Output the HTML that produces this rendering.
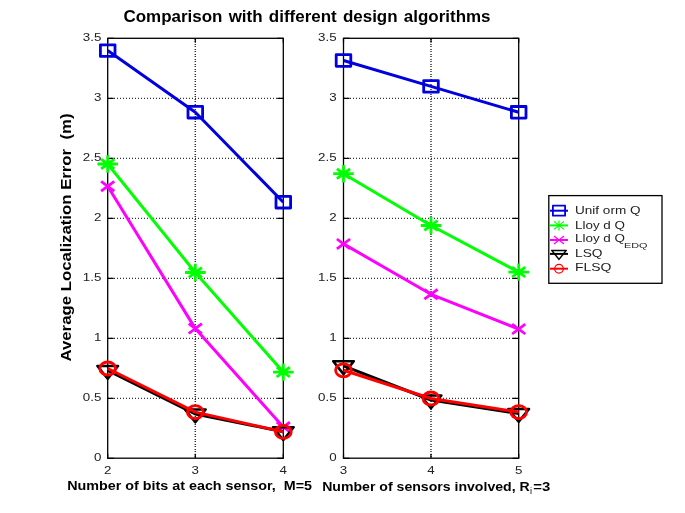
<!DOCTYPE html>
<html><head><meta charset="utf-8"><style>
html,body{margin:0;padding:0;background:#fff;}
svg{display:block;font-family:"Liberation Sans",sans-serif;will-change:transform;}
</style></head><body>
<svg width="685" height="513" viewBox="0 0 685 513">
<rect width="685" height="513" fill="#fff"/>
<g opacity="0.8"><line x1="195.3" y1="39" x2="195.3" y2="458" stroke="#000" stroke-width="1.5" stroke-dasharray="1 1 1 2"/><line x1="108" y1="398.30" x2="283.3" y2="398.30" stroke="#000" stroke-width="1.2" stroke-dasharray="1 2"/><line x1="108" y1="338.30" x2="283.3" y2="338.30" stroke="#000" stroke-width="1.2" stroke-dasharray="1 2"/><line x1="108" y1="278.30" x2="283.3" y2="278.30" stroke="#000" stroke-width="1.2" stroke-dasharray="1 2"/><line x1="108" y1="218.30" x2="283.3" y2="218.30" stroke="#000" stroke-width="1.2" stroke-dasharray="1 2"/><line x1="108" y1="158.30" x2="283.3" y2="158.30" stroke="#000" stroke-width="1.2" stroke-dasharray="1 2"/><line x1="108" y1="98.30" x2="283.3" y2="98.30" stroke="#000" stroke-width="1.2" stroke-dasharray="1 2"/></g>
<path d="M107.7,458.2v-4.5M107.7,38.3v4.5M195.3,458.2v-4.5M195.3,38.3v4.5M283.3,458.2v-4.5M283.3,38.3v4.5M107.7,458.30h6M283.3,458.30h-6M107.7,398.30h6M283.3,398.30h-6M107.7,338.30h6M283.3,338.30h-6M107.7,278.30h6M283.3,278.30h-6M107.7,218.30h6M283.3,218.30h-6M107.7,158.30h6M283.3,158.30h-6M107.7,98.30h6M283.3,98.30h-6M107.7,38.30h6M283.3,38.30h-6" stroke="#000" stroke-width="1.2" fill="none"/>
<rect x="107.7" y="38.3" width="175.60" height="419.90" fill="none" stroke="#000" stroke-width="1.3"/>
<polyline points="107.70,50.60 195.30,112.20 283.30,202.20" fill="none" stroke="#0000e0" stroke-width="3.0" stroke-linejoin="round"/>
<rect x="100.40" y="44.80" width="14.60" height="11.60" fill="none" stroke="#0000e0" stroke-width="2.8" stroke-linejoin="round"/>
<rect x="188.00" y="106.40" width="14.60" height="11.60" fill="none" stroke="#0000e0" stroke-width="2.8" stroke-linejoin="round"/>
<rect x="276.00" y="196.40" width="14.60" height="11.60" fill="none" stroke="#0000e0" stroke-width="2.8" stroke-linejoin="round"/>
<polyline points="107.70,164.00 195.30,272.50 283.30,372.10" fill="none" stroke="#00ff00" stroke-width="3.0" stroke-linejoin="round"/>
<path d="M101.10,159.10L114.30,168.90M101.10,168.90L114.30,159.10M97.40,164.00L118.00,164.00M107.70,155.30L107.70,172.70" fill="none" stroke="#00ff00" stroke-width="2.8"/>
<path d="M188.70,267.60L201.90,277.40M188.70,277.40L201.90,267.60M185.00,272.50L205.60,272.50M195.30,263.80L195.30,281.20" fill="none" stroke="#00ff00" stroke-width="2.8"/>
<path d="M276.70,367.20L289.90,377.00M276.70,377.00L289.90,367.20M273.00,372.10L293.60,372.10M283.30,363.40L283.30,380.80" fill="none" stroke="#00ff00" stroke-width="2.8"/>
<polyline points="107.70,186.20 195.30,328.60 283.30,427.00" fill="none" stroke="#ff00ff" stroke-width="3.0" stroke-linejoin="round"/>
<path d="M101.10,181.30L114.30,191.10M101.10,191.10L114.30,181.30" fill="none" stroke="#ff00ff" stroke-width="2.8"/>
<path d="M188.70,323.70L201.90,333.50M188.70,333.50L201.90,323.70" fill="none" stroke="#ff00ff" stroke-width="2.8"/>
<path d="M276.70,422.10L289.90,431.90M276.70,431.90L289.90,422.10" fill="none" stroke="#ff00ff" stroke-width="2.8"/>
<polyline points="107.70,370.50 195.30,414.00 283.30,431.70" fill="none" stroke="#000000" stroke-width="3.0" stroke-linejoin="round"/>
<path d="M97.40,366.00L118.00,366.00L107.70,378.80Z" fill="none" stroke="#000000" stroke-width="2.6" stroke-linejoin="round"/>
<path d="M185.00,409.50L205.60,409.50L195.30,422.30Z" fill="none" stroke="#000000" stroke-width="2.6" stroke-linejoin="round"/>
<path d="M273.00,427.20L293.60,427.20L283.30,440.00Z" fill="none" stroke="#000000" stroke-width="2.6" stroke-linejoin="round"/>
<polyline points="107.70,368.50 195.30,412.10 283.30,431.90" fill="none" stroke="#ff0000" stroke-width="3.0" stroke-linejoin="round"/>
<ellipse cx="107.70" cy="368.50" rx="7.9" ry="6.5" fill="none" stroke="#ff0000" stroke-width="2.8"/>
<ellipse cx="195.30" cy="412.10" rx="7.9" ry="6.5" fill="none" stroke="#ff0000" stroke-width="2.8"/>
<ellipse cx="283.30" cy="431.90" rx="7.9" ry="6.5" fill="none" stroke="#ff0000" stroke-width="2.8"/>
<g opacity="0.8"><line x1="431.0" y1="39" x2="431.0" y2="458" stroke="#000" stroke-width="1.5" stroke-dasharray="1 1 1 2"/><line x1="344" y1="398.30" x2="518.7" y2="398.30" stroke="#000" stroke-width="1.2" stroke-dasharray="1 2"/><line x1="344" y1="338.30" x2="518.7" y2="338.30" stroke="#000" stroke-width="1.2" stroke-dasharray="1 2"/><line x1="344" y1="278.30" x2="518.7" y2="278.30" stroke="#000" stroke-width="1.2" stroke-dasharray="1 2"/><line x1="344" y1="218.30" x2="518.7" y2="218.30" stroke="#000" stroke-width="1.2" stroke-dasharray="1 2"/><line x1="344" y1="158.30" x2="518.7" y2="158.30" stroke="#000" stroke-width="1.2" stroke-dasharray="1 2"/><line x1="344" y1="98.30" x2="518.7" y2="98.30" stroke="#000" stroke-width="1.2" stroke-dasharray="1 2"/></g>
<path d="M343.5,458.2v-4.5M343.5,38.3v4.5M431.0,458.2v-4.5M431.0,38.3v4.5M518.7,458.2v-4.5M518.7,38.3v4.5M343.5,458.30h6M518.7,458.30h-6M343.5,398.30h6M518.7,398.30h-6M343.5,338.30h6M518.7,338.30h-6M343.5,278.30h6M518.7,278.30h-6M343.5,218.30h6M518.7,218.30h-6M343.5,158.30h6M518.7,158.30h-6M343.5,98.30h6M518.7,98.30h-6M343.5,38.30h6M518.7,38.30h-6" stroke="#000" stroke-width="1.2" fill="none"/>
<rect x="343.5" y="38.3" width="175.20" height="419.90" fill="none" stroke="#000" stroke-width="1.3"/>
<polyline points="343.50,60.50 431.00,86.40 518.70,112.30" fill="none" stroke="#0000e0" stroke-width="3.0" stroke-linejoin="round"/>
<rect x="336.20" y="54.70" width="14.60" height="11.60" fill="none" stroke="#0000e0" stroke-width="2.8" stroke-linejoin="round"/>
<rect x="423.70" y="80.60" width="14.60" height="11.60" fill="none" stroke="#0000e0" stroke-width="2.8" stroke-linejoin="round"/>
<rect x="511.40" y="106.50" width="14.60" height="11.60" fill="none" stroke="#0000e0" stroke-width="2.8" stroke-linejoin="round"/>
<polyline points="343.50,173.70 431.00,225.50 518.70,272.10" fill="none" stroke="#00ff00" stroke-width="3.0" stroke-linejoin="round"/>
<path d="M336.90,168.80L350.10,178.60M336.90,178.60L350.10,168.80M333.20,173.70L353.80,173.70M343.50,165.00L343.50,182.40" fill="none" stroke="#00ff00" stroke-width="2.8"/>
<path d="M424.40,220.60L437.60,230.40M424.40,230.40L437.60,220.60M420.70,225.50L441.30,225.50M431.00,216.80L431.00,234.20" fill="none" stroke="#00ff00" stroke-width="2.8"/>
<path d="M512.10,267.20L525.30,277.00M512.10,277.00L525.30,267.20M508.40,272.10L529.00,272.10M518.70,263.40L518.70,280.80" fill="none" stroke="#00ff00" stroke-width="2.8"/>
<polyline points="343.50,243.90 431.00,294.30 518.70,329.10" fill="none" stroke="#ff00ff" stroke-width="3.0" stroke-linejoin="round"/>
<path d="M336.90,239.00L350.10,248.80M336.90,248.80L350.10,239.00" fill="none" stroke="#ff00ff" stroke-width="2.8"/>
<path d="M424.40,289.40L437.60,299.20M424.40,299.20L437.60,289.40" fill="none" stroke="#ff00ff" stroke-width="2.8"/>
<path d="M512.10,324.20L525.30,334.00M512.10,334.00L525.30,324.20" fill="none" stroke="#ff00ff" stroke-width="2.8"/>
<polyline points="343.50,365.80 431.00,400.00 518.70,413.50" fill="none" stroke="#000000" stroke-width="3.0" stroke-linejoin="round"/>
<path d="M333.20,361.30L353.80,361.30L343.50,374.10Z" fill="none" stroke="#000000" stroke-width="2.6" stroke-linejoin="round"/>
<path d="M420.70,395.50L441.30,395.50L431.00,408.30Z" fill="none" stroke="#000000" stroke-width="2.6" stroke-linejoin="round"/>
<path d="M508.40,409.00L529.00,409.00L518.70,421.80Z" fill="none" stroke="#000000" stroke-width="2.6" stroke-linejoin="round"/>
<polyline points="343.50,370.30 431.00,398.50 518.70,412.10" fill="none" stroke="#ff0000" stroke-width="3.0" stroke-linejoin="round"/>
<ellipse cx="343.50" cy="370.30" rx="7.9" ry="6.5" fill="none" stroke="#ff0000" stroke-width="2.8"/>
<ellipse cx="431.00" cy="398.50" rx="7.9" ry="6.5" fill="none" stroke="#ff0000" stroke-width="2.8"/>
<ellipse cx="518.70" cy="412.10" rx="7.9" ry="6.5" fill="none" stroke="#ff0000" stroke-width="2.8"/>
<text transform="translate(101.30,461.20) scale(1.13,1)" font-size="11.8" text-anchor="end" font-weight="normal" fill="#222" >0</text>
<text transform="translate(336.60,461.20) scale(1.13,1)" font-size="11.8" text-anchor="end" font-weight="normal" fill="#222" >0</text>
<text transform="translate(101.30,401.20) scale(1.13,1)" font-size="11.8" text-anchor="end" font-weight="normal" fill="#222" >0.5</text>
<text transform="translate(336.60,401.20) scale(1.13,1)" font-size="11.8" text-anchor="end" font-weight="normal" fill="#222" >0.5</text>
<text transform="translate(101.30,341.20) scale(1.13,1)" font-size="11.8" text-anchor="end" font-weight="normal" fill="#222" >1</text>
<text transform="translate(336.60,341.20) scale(1.13,1)" font-size="11.8" text-anchor="end" font-weight="normal" fill="#222" >1</text>
<text transform="translate(101.30,281.20) scale(1.13,1)" font-size="11.8" text-anchor="end" font-weight="normal" fill="#222" >1.5</text>
<text transform="translate(336.60,281.20) scale(1.13,1)" font-size="11.8" text-anchor="end" font-weight="normal" fill="#222" >1.5</text>
<text transform="translate(101.30,221.20) scale(1.13,1)" font-size="11.8" text-anchor="end" font-weight="normal" fill="#222" >2</text>
<text transform="translate(336.60,221.20) scale(1.13,1)" font-size="11.8" text-anchor="end" font-weight="normal" fill="#222" >2</text>
<text transform="translate(101.30,161.20) scale(1.13,1)" font-size="11.8" text-anchor="end" font-weight="normal" fill="#222" >2.5</text>
<text transform="translate(336.60,161.20) scale(1.13,1)" font-size="11.8" text-anchor="end" font-weight="normal" fill="#222" >2.5</text>
<text transform="translate(101.30,101.20) scale(1.13,1)" font-size="11.8" text-anchor="end" font-weight="normal" fill="#222" >3</text>
<text transform="translate(336.60,101.20) scale(1.13,1)" font-size="11.8" text-anchor="end" font-weight="normal" fill="#222" >3</text>
<text transform="translate(101.30,41.20) scale(1.13,1)" font-size="11.8" text-anchor="end" font-weight="normal" fill="#222" >3.5</text>
<text transform="translate(336.60,41.20) scale(1.13,1)" font-size="11.8" text-anchor="end" font-weight="normal" fill="#222" >3.5</text>
<text transform="translate(107.70,473.80) scale(1.13,1)" font-size="11.8" text-anchor="middle" font-weight="normal" fill="#222" >2</text>
<text transform="translate(195.30,473.80) scale(1.13,1)" font-size="11.8" text-anchor="middle" font-weight="normal" fill="#222" >3</text>
<text transform="translate(283.30,473.80) scale(1.13,1)" font-size="11.8" text-anchor="middle" font-weight="normal" fill="#222" >4</text>
<text transform="translate(343.50,473.80) scale(1.13,1)" font-size="11.8" text-anchor="middle" font-weight="normal" fill="#222" >3</text>
<text transform="translate(431.00,473.80) scale(1.13,1)" font-size="11.8" text-anchor="middle" font-weight="normal" fill="#222" >4</text>
<text transform="translate(518.70,473.80) scale(1.13,1)" font-size="11.8" text-anchor="middle" font-weight="normal" fill="#222" >5</text>
<text x="123.5" y="21.6" font-size="16" font-weight="bold" fill="#000" textLength="367" lengthAdjust="spacingAndGlyphs" word-spacing="1.5">Comparison with different design algorithms</text>
<text x="67.2" y="490.4" font-size="13" font-weight="bold" fill="#000" textLength="244.8" lengthAdjust="spacingAndGlyphs" >Number of bits at each sensor,&#160; M=5</text>
<text x="322.2" y="491.3" font-size="13" font-weight="bold" fill="#000" textLength="207.5" lengthAdjust="spacingAndGlyphs">Number of sensors involved, R</text>
<text x="530.0" y="494.3" font-size="9" fill="#000">i</text>
<text x="533.3" y="491.3" font-size="13" font-weight="bold" fill="#000" textLength="17" lengthAdjust="spacingAndGlyphs">=3</text>
<text transform="translate(71.4,361.5) rotate(-90)" font-size="14" font-weight="bold" fill="#000" textLength="248" lengthAdjust="spacingAndGlyphs">Average Localization Error&#160; (m)</text>
<rect x="548.8" y="195.6" width="113.2" height="87.7" fill="#fff" stroke="#000" stroke-width="1.3"/>
<line x1="550" y1="210.7" x2="568" y2="210.7" stroke="#0000e0" stroke-width="2"/>
<rect x="552.90" y="205.70" width="12.20" height="10.00" fill="none" stroke="#0000e0" stroke-width="1.8" stroke-linejoin="round"/>
<line x1="550" y1="225.4" x2="568" y2="225.4" stroke="#00ff00" stroke-width="2"/>
<path d="M554.00,221.40L564.00,229.40M554.00,229.40L564.00,221.40M559.00,220.40L559.00,230.40" fill="none" stroke="#00ff00" stroke-width="1.2"/>
<line x1="550" y1="240.0" x2="568" y2="240.0" stroke="#ff00ff" stroke-width="2"/>
<path d="M554.00,236.00L564.00,244.00M554.00,244.00L564.00,236.00" fill="none" stroke="#ff00ff" stroke-width="1.2"/>
<line x1="550" y1="253.9" x2="568" y2="253.9" stroke="#000000" stroke-width="2"/>
<path d="M551.70,250.40L566.30,250.40L559.00,259.40Z" fill="none" stroke="#000000" stroke-width="1.5" stroke-linejoin="round"/>
<line x1="550" y1="268.7" x2="568" y2="268.7" stroke="#ff0000" stroke-width="2"/>
<ellipse cx="559.00" cy="268.70" rx="4.3" ry="4.4" fill="none" stroke="#ff0000" stroke-width="1.3"/>
<text x="575.0" y="213.8" font-size="11.4" fill="#222" textLength="65.5" lengthAdjust="spacingAndGlyphs" xml:space="preserve">Unif orm Q</text>
<text x="575.0" y="228.6" font-size="11.4" fill="#222" textLength="50" lengthAdjust="spacingAndGlyphs" xml:space="preserve">Lloy d Q</text>
<text x="575.0" y="242.1" font-size="11.4" fill="#222" textLength="50" lengthAdjust="spacingAndGlyphs" xml:space="preserve">Lloy d Q</text>
<text x="575.0" y="256.7" font-size="11.4" fill="#222" textLength="27.5" lengthAdjust="spacingAndGlyphs" xml:space="preserve">LSQ</text>
<text x="575.0" y="271.1" font-size="11.4" fill="#222" textLength="36.5" lengthAdjust="spacingAndGlyphs" xml:space="preserve">FLSQ</text>
<text x="624.0" y="247.9" font-size="8" fill="#222" textLength="23.5" lengthAdjust="spacingAndGlyphs">EDQ</text>
</svg>
</body></html>
